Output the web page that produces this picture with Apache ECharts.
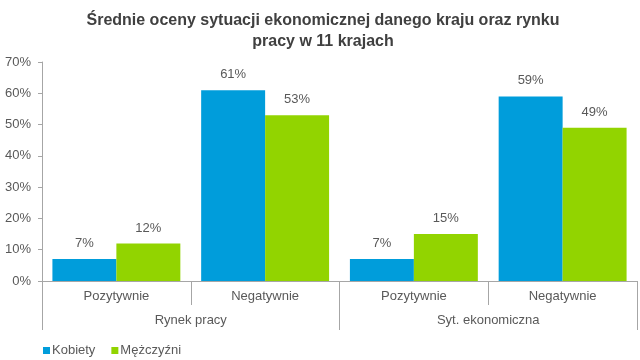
<!DOCTYPE html>
<html>
<head>
<meta charset="utf-8">
<script src="https://cdn.jsdelivr.net/npm/echarts@6/dist/echarts.min.js"></script>
<style>html,body{margin:0;padding:0;background:#fff}#c{width:640px;height:360px}</style>
</head>
<body>
<div id="c"></div>
<script>
var titleText = 'Średnie oceny sytuacji ekonomicznej danego kraju oraz rynku\npracy w 11 krajach';
var categories = ['Pozytywnie', 'Negatywnie', 'Pozytywnie', 'Negatywnie'];
var groups = ['Rynek pracy', 'Syt. ekonomiczna'];
var seriesNames = ['Kobiety', 'Mężczyźni'];
var kobiety = [7, 61, 7, 59];
var mezczyzni = [12, 53, 15, 49];
var yTicks = [0, 10, 20, 30, 40, 50, 60, 70];

var font = 'Liberation Sans, Arial, sans-serif';
var gray = '#595959';
var lineColor = '#a6a6a6';

var chart = echarts.init(document.getElementById('c'));
chart.setOption({
  animation: false,
  textStyle: { fontFamily: font },
  title: {
    text: titleText,
    left: 318, textAlign: 'center', top: 5,
    textStyle: { fontFamily: font, fontSize: 16, fontWeight: 'bold', color: '#404040', lineHeight: 21 }
  },
  legend: {
    left: 38, top: 339,
    itemWidth: 7, itemHeight: 7, itemGap: 16,
    icon: 'rect',
    textStyle: { fontFamily: font, fontSize: 13, color: gray, padding: [0, 0, 0, -3] },
    data: seriesNames
  },
  grid: { left: 42, right: 3, top: 62, bottom: 79 },
  xAxis: [{
    type: 'category',
    data: categories,
    axisLine: { lineStyle: { color: lineColor } },
    axisTick: { show: true, length: 24, interval: 0, lineStyle: { color: lineColor } },
    axisLabel: { color: gray, fontSize: 13, margin: 9, fontFamily: font }
  }, {
    type: 'category',
    data: groups,
    position: 'bottom',
    axisLine: { show: false },
    axisTick: { show: true, length: 49, interval: 0, lineStyle: { color: lineColor } },
    axisLabel: { color: gray, fontSize: 13, margin: 33, fontFamily: font }
  }],
  yAxis: {
    type: 'value',
    min: yTicks[0], max: yTicks[yTicks.length - 1], interval: 10,
    splitLine: { show: false },
    axisLine: { show: true, lineStyle: { color: lineColor } },
    axisTick: { show: true, length: 4, lineStyle: { color: lineColor } },
    axisLabel: { formatter: '{value}%', color: gray, fontSize: 13, margin: 11, fontFamily: font }
  },
  series: [{
    name: seriesNames[0], type: 'bar', data: kobiety,
    barGap: '0%', barCategoryGap: '14%',
    itemStyle: { color: '#009DDB' },
    label: { show: true, position: 'top', distance: 9, formatter: '{c}%', color: gray, fontSize: 13, fontFamily: font }
  }, {
    name: seriesNames[1], type: 'bar', data: mezczyzni,
    itemStyle: { color: '#92D400' },
    label: { show: true, position: 'top', distance: 9, formatter: '{c}%', color: gray, fontSize: 13, fontFamily: font }
  }]
});
</script>
</body>
</html>
